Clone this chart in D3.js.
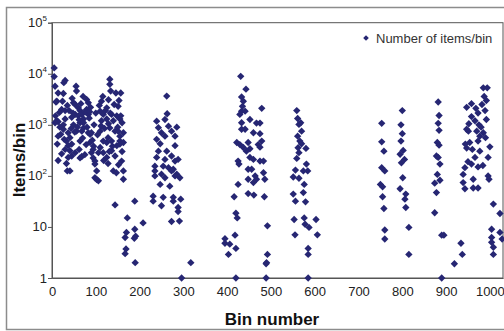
<!DOCTYPE html>
<html>
<head>
<meta charset="utf-8">
<script src="https://cdn.jsdelivr.net/npm/d3@7"></script>
<style>
  body { margin: 0; background: #fff; }
  svg { display: block; font-family: Arial, "Liberation Sans", sans-serif; }
</style>
</head>
<body>
<div id="chart"></div>
<script>
// 数据: [bin, items]
var clusterA = [[5,13000],[5,8800],[7,5700],[27,6700],[14,4200],[26,4100],[11,2900],[9,2800],[24,2900],[22,2000],
  [30,1900],[17,1750],[11,1200],[14,1150],[7,1100],[26,1000],[26,820],[14,600],[37,700],[41,560],
  [33,480],[37,390],[45,420],[30,330],[41,310],[14,200],[37,230],[33,175],[35,125],[41,125],
  [45,245],[53,285],[55,5700],[56,4600],[49,2700],[53,2500],[60,2150],[64,1900],[53,1600],[45,1400],
  [60,1500],[68,1600],[72,1300],[64,1100],[49,1000],[56,750],[68,750],[72,870],[79,3150],[83,2700],
  [79,2000],[83,1600],[72,1100],[83,700],[87,650],[90,700],[64,480],[68,240],[75,260],[64,225],
  [87,450],[94,330],[90,285],[94,225],[98,195],[98,170],[102,125],[98,92],[106,80],[102,85],
  [113,2900],[110,1850],[117,1600],[113,1200],[110,750],[129,3100],[132,7800],[132,6200],[134,4600],[125,2150],
  [125,1300],[136,1600],[129,1050],[132,870],[140,1200],[144,750],[148,1500],[151,2300],[157,1500],[155,1300],
  [146,4200],[157,4200],[151,750],[155,600],[163,700],[155,480],[148,390],[155,420],[163,450],[136,480],
  [125,450],[117,480],[110,360],[106,285],[117,285],[125,230],[136,310],[144,245],[159,195],[140,125],
  [163,125],[163,86],[30,7400],[8,1500],[18,900],[20,650],[30,1300],[35,2400],[44,850],[48,1700],
  [52,720],[58,900],[62,1250],[66,2600],[70,550],[76,1800],[80,900],[85,1350],[88,2200],[92,500],
  [96,1000],[100,1700],[104,640],[108,2400],[112,950],[116,3600],[120,850],[122,1900],[128,560],[133,1700],
  [138,380],[142,2500],[150,900],[153,3000],[160,1100],[12,420],[22,270],[28,520],[39,1900],[46,3300],
  [62,330],[71,3600],[78,410],[86,1800],[95,380],[118,200],[128,175],[131,300],[152,165],[147,115],[160,300]];
var clusterALow = [[144,27],[172,15],[170,7.8],[167,6.2],[169,3.7],[167,3],[189,32],[189,9],[191,6.6],[188,6],
  [190,2],[208,12]];
var clusterB = [[262,3650],[263,1650],[258,1270],[239,1180],[243,880],[266,940],[285,900],[273,750],[250,700],[281,600],
  [258,600],[239,520],[247,425],[281,390],[243,305],[262,305],[273,245],[239,230],[258,210],[281,195],
  [288,210],[235,155],[266,145],[277,135],[250,108],[285,108],[235,100],[258,92],[292,92],[247,68],
  [269,63],[231,40],[231,32],[254,38],[250,26],[277,38],[277,32],[294,35],[288,24],[288,20],
  [273,12.8],[291,13],[235,125],[273,125],[254,155],[281,100],[296,1],[317,2]];
var clusterC = [[431,8900],[443,5000],[433,3500],[437,2900],[435,2300],[479,2100],[433,1850],[441,1850],[429,1600],[433,1100],
  [452,1270],[467,1080],[475,1080],[441,820],[433,820],[460,700],[475,670],[422,450],[429,410],[437,360],
  [448,450],[452,340],[444,305],[471,410],[475,365],[479,480],[452,230],[460,210],[425,195],[427,170],
  [475,195],[483,195],[483,115],[456,135],[448,135],[464,100],[467,86],[460,74],[486,86],[448,86],
  [425,68],[448,45],[461,42],[485,39],[416,39],[420,18.6],[423,15],[492,10.5],[418,6.9],[395,5.9],
  [395,4.8],[406,4.6],[420,3.8],[403,2.9],[492,2.9],[490,2],[489,1.9],[420,1],[489,1]];
var clusterD = [[559,1900],[561,1330],[568,1100],[564,1020],[570,750],[561,600],[566,480],[570,425],[562,355],[580,345],
  [564,285],[559,220],[581,170],[574,125],[584,125],[556,130],[551,95],[564,90],[576,68],[551,44],
  [556,32],[574,47],[579,31],[553,14],[576,15],[578,11.3],[603,14],[587,9.8],[555,7],[606,7],
  [585,3.8],[585,2.9],[585,1]];
var clusterE = [[753,1070],[753,465],[758,305],[753,145],[760,125],[750,68],[755,61],[755,39],[758,23],[760,8.7],
  [760,5.8],[800,1900],[797,1000],[800,670],[797,480],[802,315],[795,265],[805,210],[798,180],[801,92],
  [795,56],[808,44],[806,35],[808,24],[815,9.8],[815,2.9]];
var clusterF = [[882,2800],[884,1520],[882,1070],[884,780],[880,450],[884,400],[878,245],[882,230],[886,170],[880,107],
  [886,82],[874,72],[878,47],[874,19],[890,6.9],[895,6.9],[934,4.8],[937,2.9],[919,1.9],[890,1]];
var clusterG = [[985,5300],[994,5300],[987,3600],[958,2600],[947,2200],[982,2500],[989,1900],[973,1700],[958,1450],[966,1200],
  [992,1270],[947,820],[951,750],[970,750],[985,700],[977,600],[954,450],[973,480],[1000,370],[947,350],
  [977,305],[996,230],[966,230],[958,170],[973,150],[943,145],[939,107],[962,86],[996,100],[998,86],
  [939,74],[962,58],[973,58],[943,56],[1008,28],[1023,18.3],[1004,9],[1023,7.8],[1004,6.2],[1028,5.8],
  [1004,5],[1008,4],[1008,2.9],[952,1050],[968,2100],[980,900],[990,560],[944,420],[960,330],[984,160],
  [950,190],[992,3000],[975,1000]];

var xTicks = [0, 100, 200, 300, 400, 500, 600, 700, 800, 900, 1000];
var yTicks = [1, 10, 100, 1000, 10000, 100000];
var seriesName = "Number of items/bin";

(function () {
    var dataset = [].concat(clusterA, clusterALow, clusterB, clusterC, clusterD, clusterE, clusterF, clusterG);

    var width = 504, height = 331;
    var plotLeft = 52, plotRight = 503, plotTop = 22.7, plotBottom = 278;
    var color = "#262673";

    var svg = d3.select("#chart")
        .append("svg")
        .attr("width", width)
        .attr("height", height);

    // 外框
    svg.append("rect")
        .attr("x", 6.5).attr("y", 7.5)
        .attr("width", 510).attr("height", 322)
        .attr("fill", "#fff")
        .attr("stroke", "#8c8c8c")
        .attr("stroke-width", 1.5);

    var x = d3.scaleLinear().domain([0, 1030]).range([plotLeft, plotRight]);
    var y = d3.scaleLog().domain([1, 100000]).range([plotBottom, plotTop]);

    // 绘图区
    svg.append("rect")
        .attr("x", plotLeft).attr("y", plotTop)
        .attr("width", plotRight - plotLeft).attr("height", plotBottom - plotTop)
        .attr("fill", "#fff")
        .attr("stroke", "#555")
        .attr("stroke-width", 1);

    // y轴
    var yAxis = svg.append("g")
        .attr("transform", "translate(" + plotLeft + ",0)")
        .call(d3.axisLeft(y).tickValues(yTicks).tickSize(4).tickFormat(""));
    yAxis.select(".domain").attr("stroke", "#555");
    yAxis.selectAll(".tick line").attr("stroke", "#555");

    var yLab = svg.append("g").selectAll("text")
        .data(yTicks)
        .enter()
        .append("text")
        .attr("x", plotLeft - 5)
        .attr("y", function (d) { return y(d) + 4.5; })
        .attr("text-anchor", "end")
        .attr("font-size", 13)
        .attr("fill", "#222");
    yLab.each(function (d) {
        var t = d3.select(this);
        var e = Math.round(Math.log10(d));
        if (e < 2) {
            t.text(d);
        } else {
            t.append("tspan").text("10");
            t.append("tspan").attr("dy", -6).attr("font-size", 8).text(e);
        }
    });

    // x轴
    var xAxis = svg.append("g")
        .attr("transform", "translate(0," + plotBottom + ")")
        .call(d3.axisBottom(x).tickValues(xTicks).tickSize(0).tickPadding(9).tickFormat(d3.format("d")));
    xAxis.select(".domain").attr("stroke", "#555");
    xAxis.selectAll(".tick text")
        .attr("font-size", 13)
        .attr("fill", "#222")
        .attr("font-family", "Arial, 'Liberation Sans', sans-serif");

    // 轴标题
    svg.append("text")
        .attr("x", 272).attr("y", 325)
        .attr("text-anchor", "middle")
        .attr("font-size", 17)
        .attr("font-weight", "bold")
        .attr("fill", "#111")
        .text("Bin number");
    svg.append("text")
        .attr("transform", "translate(25,160) rotate(-90)")
        .attr("text-anchor", "middle")
        .attr("font-size", 17)
        .attr("font-weight", "bold")
        .attr("fill", "#111")
        .text("Items/bin");

    // 散点
    var diamond = d3.symbol().type(d3.symbolSquare).size(27);
    svg.append("g").selectAll("path")
        .data(dataset)
        .enter()
        .append("path")
        .attr("d", diamond)
        .attr("transform", function (d) {
            return "translate(" + x(d[0]) + "," + y(d[1]) + ") rotate(45)";
        })
        .attr("fill", color);

    // 图例
    var legend = svg.append("g").attr("transform", "translate(366,38)");
    legend.append("path")
        .attr("d", d3.symbol().type(d3.symbolSquare).size(16))
        .attr("transform", "rotate(45)")
        .attr("fill", color);
    legend.append("text")
        .attr("x", 10).attr("y", 4.5)
        .attr("font-size", 13)
        .attr("fill", "#333")
        .text(seriesName);
})();
</script>
</body>
</html>
